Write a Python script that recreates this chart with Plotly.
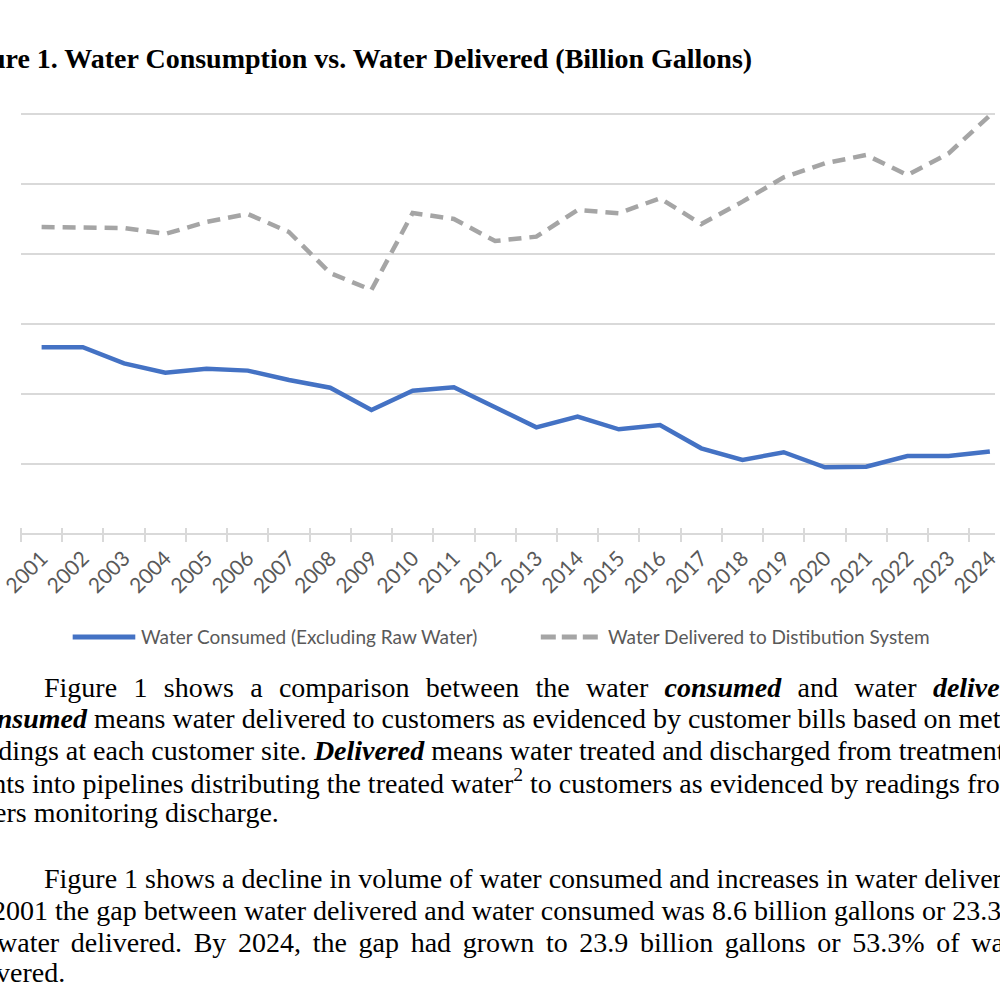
import plotly.graph_objects as go

# ---------------- data ----------------
years = [str(y) for y in range(2001, 2025)]
consumed = [28.34, 28.34, 27.19, 26.52, 26.81, 26.67, 26.00, 25.45, 23.86, 25.24, 25.48, 24.07,
            22.62, 23.38, 22.48, 22.79, 21.12, 20.29, 20.84, 19.76, 19.81, 20.57, 20.57, 20.90]
delivered = [36.93, 36.93, 36.86, 36.43, 37.29, 37.86, 36.57, 33.64, 32.43, 37.93, 37.50, 35.93,
             36.24, 38.14, 37.91, 38.98, 37.14, 38.74, 40.48, 41.48, 42.07, 40.64, 42.19, 44.90]
series_names = ["Water Consumed (Excluding Raw Water)", "Water Delivered to Distibution System"]
title_text = "Figure 1. Water Consumption vs. Water Delivered (Billion Gallons)"

para1_lines = [
    "Figure 1 shows a comparison between the water <b><i>consumed</i></b> and water <b><i>delivered</i></b>.",
    "<b><i>Consumed</i></b> means water delivered to customers as evidenced by customer bills based on meter",
    "readings at each customer site. <b><i>Delivered</i></b> means water treated and discharged from treatment",
    "plants into pipelines distributing the treated water<sup>2</sup> to customers as evidenced by readings from",
    "meters monitoring discharge.",
]
para2_lines = [
    "Figure 1 shows a decline in volume of water consumed and increases in water delivered. In",
    "2001 the gap between water delivered and water consumed was 8.6 billion gallons or 23.3% of",
    "water delivered. By 2024, the gap had grown to 23.9 billion gallons or 53.3% of water",
    "delivered.",
]

# ---------------- layout geometry (pixels) ----------------
W, H = 1000, 1000
ML, MR, MT, MB = 20, 0, 107, 459
PW, PH = W - ML - MR, H - MT - MB


def px(x):
    return (x - ML) / PW


def py(y):
    return (H - MB - y) / PH


BLUE = "#4472C4"
GRAY = "#A5A5A5"
TXT_GRAY = "#595959"
GRID = "#D9D9D9"
SERIF = "Liberation Serif, Times New Roman, serif"
SANS = "Lato, Carlito, Calibri, sans-serif"

fig = go.Figure()
fig.add_trace(go.Scatter(x=years, y=consumed, mode="lines", name=series_names[0],
                         line=dict(color=BLUE, width=4.5), showlegend=False))
fig.add_trace(go.Scatter(x=years, y=delivered, mode="lines", name=series_names[1],
                         line=dict(color=GRAY, width=4.5, dash="13px,8px"), showlegend=False))

annotations = []


def add_text(text, x, baseline, size, color="black", family=SERIF, anchor="left"):
    annotations.append(dict(text=text, x=px(x), y=py(baseline - 0.34 * size), xref="paper", yref="paper",
                            xanchor=anchor, yanchor="middle", showarrow=False, borderpad=0,
                            font=dict(family=family, size=size, color=color)))


def justify(line, pad):
    # widen inter-word gaps (justified text) with narrow unicode spaces
    return line.replace(" ", " " + pad)


# title
add_text("<b>" + title_text + "</b>", 757, 68, 28, anchor="right")

# legend (manual)
shapes = [
    dict(type="line", xref="paper", yref="paper", x0=px(72), x1=px(135), y0=py(637), y1=py(637),
         line=dict(color=BLUE, width=5)),
    dict(type="line", xref="paper", yref="paper", x0=px(543), x1=px(603), y0=py(637), y1=py(637),
         line=dict(color=GRAY, width=5, dash="15px,6px")),
]
add_text(series_names[0], 140, 643, 19, color=TXT_GRAY, family=SANS)
add_text(series_names[1], 610, 643, 19, color=TXT_GRAY, family=SANS)

FS = 28
# paragraph 1
p1_x = [42, -38, -38, -44, -50]
p1_base = [697, 728.5, 760, 791.5, 822]
for i, (t, x, b) in enumerate(zip(para1_lines, p1_x, p1_base)):
    add_text(justify(t, "\u2005\u200a") if i == 0 else t, x, b, FS)

# paragraph 2
p2_x = [42, -10, -5, -48]
p2_base = [888.5, 920, 952, 982]
for i, (t, x, b) in enumerate(zip(para2_lines, p2_x, p2_base)):
    add_text(justify(t, "\u2006") if i == 2 else t, x, b, FS)

fig.update_layout(
    width=W, height=H,
    margin=dict(l=ML, r=MR, t=MT, b=MB, pad=0),
    paper_bgcolor="white", plot_bgcolor="white",
    showlegend=False,
    annotations=annotations,
    shapes=shapes,
    xaxis=dict(type="category", categoryorder="array", categoryarray=years,
               range=[-0.5, 23.125], tickson="boundaries", ticks="outside", ticklen=14,
               tickcolor=GRID, tickwidth=1.5, showline=False, showgrid=False, zeroline=False,
               anchor="free", position=(H - MB - 527) / PH, tickangle=-45, ticklabelstandoff=14,
               tickfont=dict(family=SANS, size=21, color=TXT_GRAY)),
    yaxis=dict(range=[14.5, 45.5], tick0=0, dtick=5, showticklabels=False, ticks="",
               showgrid=True, gridcolor=GRID, gridwidth=1.5, zeroline=False, showline=False),
)

fig.write_html("out.html")
